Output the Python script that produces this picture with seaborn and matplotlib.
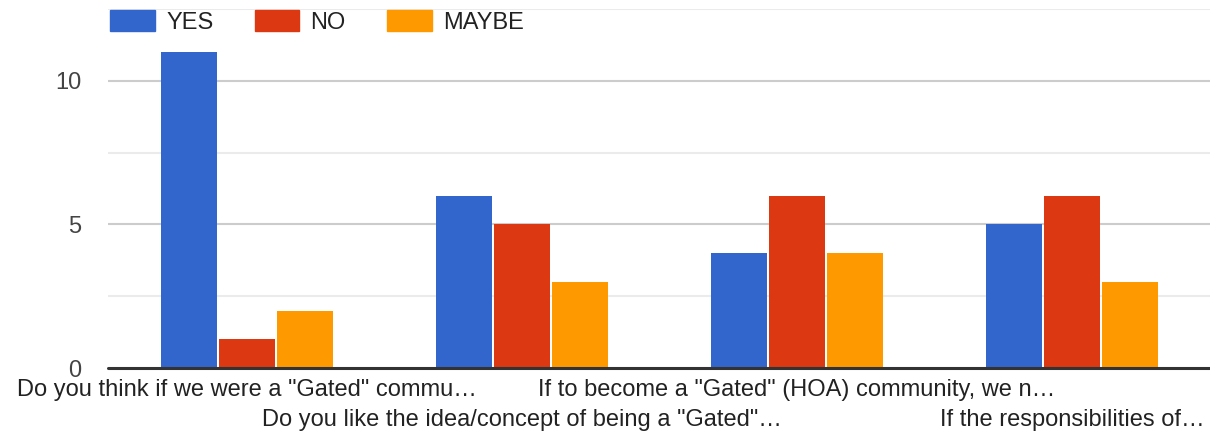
import pandas as pd
import matplotlib.pyplot as plt
import seaborn as sns

questions = [
    'Do you think if we were a "Gated" commu\u2026',
    'Do you like the idea/concept of being a "Gated"\u2026',
    'If to become a "Gated" (HOA) community, we n\u2026',
    'If the responsibilities of\u2026',
]
answers = ['YES', 'NO', 'MAYBE']
yes_counts = [11, 6, 4, 5]
no_counts = [1, 5, 6, 6]
maybe_counts = [2, 3, 4, 3]
colors = ['#3366cc', '#dc3912', '#ff9900']

df = pd.DataFrame({
    'question': questions * 3,
    'answer': [a for a in answers for _ in questions],
    'count': yes_counts + no_counts + maybe_counts,
})

sns.set_style('white')
plt.rcParams['font.family'] = ['Liberation Sans', 'DejaVu Sans']

fig = plt.figure(figsize=(12.1, 4.36), dpi=100)
ax = fig.add_axes([108 / 1210, 1 - 368 / 436, 1 - 108 / 1210, (368 - 9) / 436])

# gridlines first so bars sit on top
for y in [2.5, 7.5, 12.5]:
    ax.axhline(y, color='#ebebeb', lw=1.5, zorder=0)
for y in [5, 10]:
    ax.axhline(y, color='#cccccc', lw=1.5, zorder=0)

sns.barplot(
    data=df, x='question', y='count', hue='answer',
    hue_order=answers, palette=colors, width=0.63, gap=0.035,
    linewidth=0, saturation=1, ax=ax, zorder=2,
)

ax.axhline(0, color='#333333', lw=2.2, zorder=3, clip_on=False)
ax.set_ylim(0, 12.5)
ax.set_xlim((108 - 247) / 275, (1210 - 247) / 275)
ax.set_yticks([0, 5, 10])
ax.set_yticklabels(['0', '5', '10'], fontsize=17, color='#444444')
for t in ax.get_yticklabels():
    t.set_verticalalignment('center_baseline')

# labels alternate between two rows: even ones as major ticks, odd as minor
pos = list(range(len(questions)))
ax.set_xticks(pos[::2])
ax.set_xticklabels(questions[::2], fontsize=17, color='#222222')
ax.set_xticks(pos[1::2], minor=True)
ax.set_xticklabels(questions[1::2], minor=True, fontsize=17, color='#222222')
ax.tick_params(axis='both', which='both', length=0)
ax.tick_params(axis='y', pad=19)
ax.tick_params(axis='x', which='major', pad=8)
ax.tick_params(axis='x', which='minor', pad=29.5)
ax.set_xlabel('')
ax.set_ylabel('')
for s in ax.spines.values():
    s.set_visible(False)

ax.get_legend().remove()
handles = [plt.Rectangle((0, 0), 1, 1, color=c) for c in colors]
fig.legend(
    handles, answers, loc='upper left', bbox_to_anchor=(89 / 1210, 1.025),
    ncol=3, frameon=False, fontsize=17, handlelength=1.9,
    handleheight=1.0, handletextpad=0.47, columnspacing=1.74,
    labelcolor='#222222',
)

plt.savefig('out.png', dpi=100)
